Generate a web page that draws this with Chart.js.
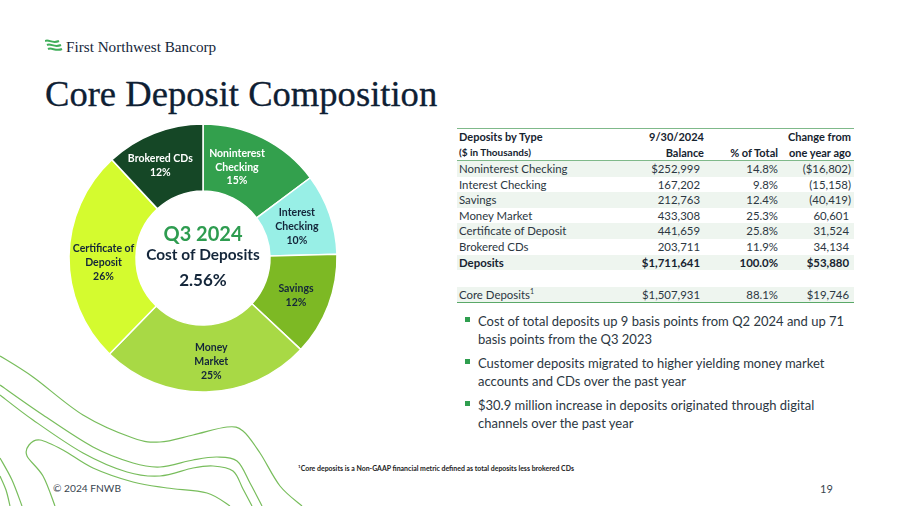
<!DOCTYPE html>
<html lang="en">
<head>
    <meta charset="UTF-8">
    <title>Core Deposit Composition</title>
    <script src="https://cdn.jsdelivr.net/npm/chart.js"></script>
    <style>
        html, body { margin: 0; padding: 0; background: #fff; }
        body { width: 900px; height: 506px; position: relative; overflow: hidden; font-family: Lato, sans-serif; color: #1d2a38; }
        .abs { position: absolute; white-space: nowrap; }
        #lines { position: absolute; left: 0; top: 0; }
        #chartBox { position: absolute; left: 53px; top: 108px; width: 300px; height: 300px; }
        #brand { left: 66px; top: 38px; font: 15.2px "Liberation Serif", serif; color: #14263a; }
        #title { left: 45px; top: 72px; font: 36.6px "Liberation Serif", serif; color: #0e2033; -webkit-text-stroke: 0.3px #0e2033; }
        #deposits { position: absolute; left: 457px; top: 128px; width: 397px; border-collapse: collapse; table-layout: fixed; font-size: 11.4px; color: #2c3742; }
        #deposits td { height: 15.6px; padding: 0; line-height: 15.6px; text-align: right; overflow: visible; white-space: nowrap; }
        #deposits td:first-child { text-align: left; padding-left: 2px; }
        #deposits td:nth-child(2) { padding-right: 4px; }
        #deposits td.pad { padding-right: 2px; }
        #deposits tr.head td { font-weight: bold; color: #16232f; font-size: 11px; height: 15px; line-height: 15px; }
        #deposits tr.head td:nth-child(2) { padding-right: 0; }
        #deposits tr.first td { border-top: 1.5px solid #7fb98a; }
        #deposits tr.sub td { border-bottom: 1px solid #7fb98a; }
        #deposits tr.band td { background: #eef5ef; }
        #deposits tr.bold td { font-weight: bold; color: #16232f; }
        #deposits tr.gap td { height: 16.6px; }
        #deposits tr.last td { border-bottom: 1.5px solid #5aa868; }
        #deposits sup { font-size: 7px; line-height: 0; }
        #notes { position: absolute; left: 465px; top: 312px; margin: 0; padding: 0; list-style: none; font-size: 13px; line-height: 18px; color: #2c3742; white-space: nowrap; }
        #notes li { position: relative; padding-left: 13px; margin-bottom: 6px; }
        #notes li::before { content: ""; position: absolute; left: 0; top: 5px; width: 5px; height: 5px; background: #2f9e4f; }
        #foot { left: 298px; top: 464px; font-size: 6.95px; font-weight: bold; color: #222; }
        #copy { left: 53px; top: 482px; font-size: 10.2px; color: #3a4650; }
        #page { left: 820px; top: 482px; font-size: 11px; color: #3a4650; }
    </style>
</head>
<body>
    <svg id="lines" width="900" height="506" fill="none" stroke="#78bd5c" stroke-width="1.2"></svg>

    <svg class="abs" style="left:45px;top:39px" width="18" height="14" fill="none" stroke="#3fae5a" stroke-width="2">
        <path d="M0 2 C4 0 7 5 14 2"/>
        <path d="M2 6 C6 4 9 9 16 6"/>
        <path d="M3 10 C7 8 11 13 17 10"/>
    </svg>
    <div class="abs" id="brand">First Northwest Bancorp</div>
    <div class="abs" id="title">Core Deposit Composition</div>

    <div id="chartBox"><canvas id="depositChart" width="300" height="300"></canvas></div>

    <table id="deposits"></table>

    <ul id="notes">
        <li>Cost of total deposits up 9 basis points from Q2 2024 and up 71<br>basis points from the Q3 2023</li>
        <li>Customer deposits migrated to higher yielding money market<br>accounts and CDs over the past year</li>
        <li>$30.9 million increase in deposits originated through digital<br>channels over the past year</li>
    </ul>

    <div class="abs" id="foot"><sup style="font-size:4.5px">1</sup>Core deposits is a Non-GAAP financial metric defined as total deposits less brokered CDs</div>
    <div class="abs" id="copy">© 2024 FNWB</div>
    <div class="abs" id="page">19</div>

    <script>
        // background contour lines, just decoration
        const contours = [
            [[0,356],[33,377],[83,415],[133,438],[160,442],[193,435],[227,427],[243,431],[260,453],[280,486],[302,506]],
            [[0,385],[43,415],[93,447],[133,463],[160,467],[193,460],[217,457],[237,461],[250,483],[262,506]],
            [[0,395],[33,420],[83,453],[127,472],[160,476],[193,468],[213,466],[233,471],[243,489],[252,506]],
            [[230,506],[207,493],[167,488],[133,482],[93,468],[63,450],[40,440],[29,445],[27,456],[43,476],[55,506]],
            [[0,458],[12,480],[22,506]],
            [[0,476],[6,490],[10,506]]
        ];
        document.getElementById('lines').innerHTML = contours.map(pts => {
            let d = `M${pts[0][0]} ${pts[0][1]}`;
            for (let i = 0; i < pts.length - 1; i++) {
                const p0 = pts[i - 1] || pts[i], p1 = pts[i], p2 = pts[i + 1], p3 = pts[i + 2] || p2;
                d += ` C${p1[0] + (p2[0] - p0[0]) / 6} ${p1[1] + (p2[1] - p0[1]) / 6} ${p2[0] - (p3[0] - p1[0]) / 6} ${p2[1] - (p3[1] - p1[1]) / 6} ${p2[0]} ${p2[1]}`;
            }
            return `<path d="${d}"/>`;
        }).join('');

        // balances in $ thousands, lines is the label on the slice
        const deposits = [
            { name: 'Noninterest Checking', lines: ['Noninterest', 'Checking', '15%'], balance: '$252,999', value: 252999, share: '14.8%', change: '($16,802)', color: '#33a04d', text: '#ffffff', dx: -11, dy: -1 },
            { name: 'Interest Checking', lines: ['Interest', 'Checking', '10%'], balance: '167,202', value: 167202, share: '9.8%', change: '(15,158)', color: '#98efe6', text: '#14263a', dx: -1, dy: 1.5 },
            { name: 'Savings', lines: ['Savings', '12%'], balance: '212,763', value: 212763, share: '12.4%', change: '(40,419)', color: '#7db924', text: '#14263a', dx: -1, dy: 2 },
            { name: 'Money Market', lines: ['Money', 'Market', '25%'], balance: '433,308', value: 433308, share: '25.3%', change: '60,601', color: '#a8d945', text: '#14263a', dx: 6, dy: 3 },
            { name: 'Certificate of Deposit', lines: ['Certificate of', 'Deposit', '26%'], balance: '441,659', value: 441659, share: '25.8%', change: '31,524', color: '#d4fb2f', text: '#14263a', dx: 1, dy: 6 },
            { name: 'Brokered CDs', lines: ['Brokered CDs', '12%'], balance: '203,711', value: 203711, share: '11.9%', change: '34,134', color: '#154726', text: '#ffffff', dx: -6, dy: 1 }
        ];

        // table under the headings, filled from the same list
        const rows = [
            ['head first', 'Deposits by Type', '9/30/2024', '', 'Change from'],
            ['head sub', '<span style="font-size:10px">($ in Thousands)</span>', 'Balance', '% of Total', 'one year ago']
        ];
        deposits.forEach((d, i) => {
            rows.push([i % 2 == 0 ? 'band' : '', d.name, d.balance, d.share, d.change]);
        });
        rows.push(['band bold', 'Deposits', '$1,711,641', '100.0%', '$53,880']);
        rows.push(['gap', '', '', '', '']);
        rows.push(['band last', 'Core Deposits<sup>1</sup>', '$1,507,931', '88.1%', '$19,746']);

        let html = '<colgroup><col style="width:160px"><col style="width:87px"><col style="width:74px"><col style="width:73px"><col></colgroup>';
        rows.forEach((r, i) => {
            const pad = i > 1 && r[4][0] != '(' ? ' class="pad"' : '';
            html += `<tr class="${r[0]}"><td>${r[1]}</td><td>${r[2]}</td><td>${r[3]}</td><td${pad}>${r[4]}</td><td></td></tr>`;
        });
        document.getElementById('deposits').innerHTML = html;

        // slice labels, centre of each arc plus a small nudge
        const sliceLabels = {
            id: 'sliceLabels',
            afterDatasetsDraw(chart) {
                const ctx = chart.ctx;
                ctx.save();
                ctx.textAlign = 'center';
                ctx.textBaseline = 'middle';
                ctx.font = 'bold 10.5px Lato';
                chart.getDatasetMeta(0).data.forEach((arc, i) => {
                    const p = arc.tooltipPosition();
                    const d = deposits[i];
                    ctx.fillStyle = d.text;
                    d.lines.forEach((t, n) => {
                        const y = p.y + d.dy + (n - (d.lines.length - 1) / 2) * 13.8;
                        ctx.fillText(t, p.x + d.dx, y);
                    });
                });
                ctx.restore();
            }
        };

        // middle of the ring
        const centerText = {
            id: 'centerText',
            afterDraw(chart) {
                const meta = chart.getDatasetMeta(0).data[0];
                const ctx = chart.ctx;
                ctx.save();
                ctx.textAlign = 'center';
                ctx.textBaseline = 'middle';
                ctx.fillStyle = '#2e9c50';
                ctx.font = 'bold 20px Lato';
                ctx.fillText('Q3 2024', meta.x, meta.y - 23);
                ctx.fillStyle = '#14263a';
                ctx.font = 'bold 15.4px Lato';
                ctx.fillText('Cost of Deposits', meta.x, meta.y - 3);
                ctx.font = 'bold 17px Lato';
                ctx.fillText('2.56%', meta.x, meta.y + 23);
                ctx.restore();
            }
        };

        new Chart(document.getElementById('depositChart'), {
            type: 'doughnut',
            data: {
                labels: deposits.map(d => d.name),
                datasets: [{
                    data: deposits.map(d => d.value),
                    backgroundColor: deposits.map(d => d.color),
                    borderColor: '#ffffff',
                    borderWidth: 1.5
                }]
            },
            options: {
                responsive: false,
                animation: false,
                cutout: '50%',
                radius: 134,
                layout: { padding: 0 },
                plugins: {
                    legend: { display: false },
                    tooltip: { enabled: false }
                }
            },
            plugins: [sliceLabels, centerText]
        });
    </script>
</body>
</html>
